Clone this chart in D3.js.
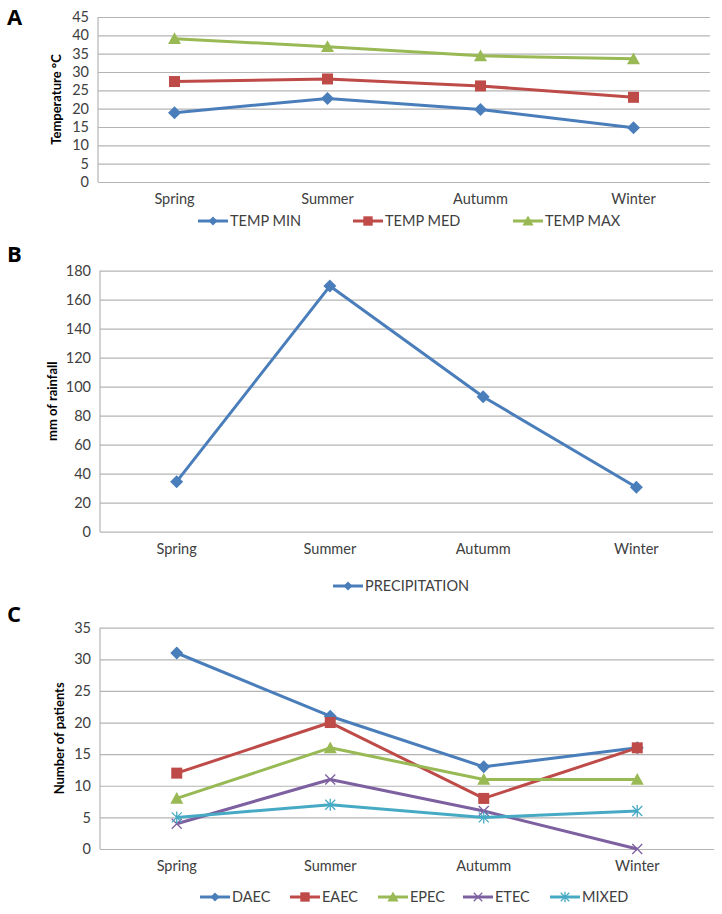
<!DOCTYPE html>
<html>
<head>
<meta charset="utf-8">
<script src="https://cdn.jsdelivr.net/npm/d3@7"></script>
<style>
  body { margin: 0; background: #fff; }
  text { font-family: Lato, "Open Sans", sans-serif; }
</style>
</head>
<body>
<div id="chart"></div>
<script>
// data
var seasons = ["Spring", "Summer", "Autumm", "Winter"]

var tempMin = [18.9, 22.8, 19.8, 14.8]
var tempMed = [27.4, 28.1, 26.2, 23.1]
var tempMax = [39.1, 36.9, 34.4, 33.6]

var precipitation = [34.5, 169.4, 93.1, 30.6]

var daec = [31, 21, 13, 16]
var eaec = [12, 20, 8, 16]
var epec = [8, 16, 11, 11]
var etec = [4, 11, 6, 0]
var mixed = [5, 7, 5, 6]

var blue = "#4a7ebb", red = "#be4b48", green = "#98b954", purple = "#7d60a0", cyan = "#46aac5"

var svg = d3.select("#chart")
  .append("svg")
  .attr("width", 722)
  .attr("height", 914)

// marker drawing
function marker(g, type, color, x, y, s) {
  if (type === "diamond") {
    var r = s / 2
    g.append("path")
      .attr("d", "M" + x + "," + (y - r) + "L" + (x + r) + "," + y + "L" + x + "," + (y + r) + "L" + (x - r) + "," + y + "Z")
      .attr("fill", color)
  } else if (type === "square") {
    g.append("rect").attr("x", x - s / 2).attr("y", y - s / 2)
      .attr("width", s).attr("height", s).attr("fill", color)
  } else if (type === "triangle") {
    var h = s * 0.9
    g.append("path")
      .attr("d", "M" + x + "," + (y - h / 2 - 1) + "L" + (x + s / 2 + 0.5) + "," + (y + h / 2) + "L" + (x - s / 2 - 0.5) + "," + (y + h / 2) + "Z")
      .attr("fill", color)
  } else if (type === "x") {
    var r = s / 2
    g.append("path")
      .attr("d", "M" + (x - r) + "," + (y - r) + "L" + (x + r) + "," + (y + r) + "M" + (x - r) + "," + (y + r) + "L" + (x + r) + "," + (y - r))
      .attr("stroke", color).attr("stroke-width", 1.3).attr("fill", "none")
  } else if (type === "star") {
    var r = s / 2
    g.append("path")
      .attr("d", "M" + (x - r) + "," + (y - r) + "L" + (x + r) + "," + (y + r) + "M" + (x - r) + "," + (y + r) + "L" + (x + r) + "," + (y - r) + "M" + x + "," + (y - r - 1) + "L" + x + "," + (y + r + 1))
      .attr("stroke", color).attr("stroke-width", 1.3).attr("fill", "none")
  }
}

function drawPanel(p) {
  var g = svg.append("g")

  var x = d3.scaleBand().domain(seasons).range([p.left, p.right])
  var y = d3.scaleLinear().domain([0, p.max]).range([p.bottom, p.top])

  // gridlines
  g.append("g")
    .attr("transform", "translate(" + p.left + ",0)")
    .call(d3.axisLeft(y).tickValues(d3.range(0, p.max + 1, p.step)).tickSize(-(p.right - p.left)).tickPadding(9))
    .call(function(a) {
      a.select(".domain").remove()
      a.selectAll(".tick line").attr("stroke", "#b4b4b4").attr("stroke-width", 1.2)
      a.selectAll(".tick text").attr("fill", "#404040").attr("font-size", 14.5)
        .style("font-family", "Lato, 'Open Sans', sans-serif")
    })

  // left axis line
  g.append("line")
    .attr("x1", p.left).attr("x2", p.left).attr("y1", p.top).attr("y2", p.bottom)
    .attr("stroke", "#b4b4b4").attr("stroke-width", 1.2)

  // x labels
  g.append("g")
    .attr("transform", "translate(0," + p.bottom + ")")
    .call(d3.axisBottom(x).tickSize(0).tickPadding(12))
    .call(function(a) {
      a.select(".domain").remove()
      a.selectAll(".tick text").attr("fill", "#404040").attr("font-size", 14.5)
        .style("font-family", "Lato, 'Open Sans', sans-serif")
    })

  // y title
  g.append("text")
    .attr("transform", "translate(" + p.titleX + "," + (p.top + p.bottom) / 2 + ") rotate(-90)")
    .attr("text-anchor", "middle")
    .attr("font-size", 13)
    .attr("font-weight", "bold")
    .attr("fill", "#000")
    .text(p.title)

  // panel letter
  g.append("text")
    .attr("x", 7).attr("y", p.letterY)
    .attr("font-size", 22).attr("font-weight", "bold")
    .style("font-family", "'Open Sans', Lato, sans-serif")
    .text(p.letter)

  var line = d3.line()
    .x(function(d, i) { return x(seasons[i]) + x.bandwidth() / 2 })
    .y(function(d) { return y(d) })

  p.series.forEach(function(s) {
    g.append("path")
      .datum(s.values)
      .attr("d", line)
      .attr("fill", "none")
      .attr("stroke", s.color)
      .attr("stroke-width", 3)
      .attr("stroke-linejoin", "round")
    s.values.forEach(function(v, i) {
      marker(g, s.marker, s.color, x(seasons[i]) + x.bandwidth() / 2, y(v), s.size)
    })
  })

  // legend
  p.series.forEach(function(s, i) {
    var lx = p.legendX[i]
    g.append("line")
      .attr("x1", lx).attr("x2", lx + 30).attr("y1", p.legendY).attr("y2", p.legendY)
      .attr("stroke", s.color).attr("stroke-width", 3)
    marker(g, s.marker, s.color, lx + 15, p.legendY, s.marker === "diamond" ? 9 : s.size * 0.85)
    g.append("text")
      .attr("x", lx + 32).attr("y", p.legendY + 5)
      .attr("font-size", 14.5).attr("fill", "#404040")
      .text(s.name)
  })
}

drawPanel({
  letter: "A", letterY: 25,
  left: 98, right: 710, top: 17, bottom: 182,
  max: 45, step: 5,
  title: "Temperature °C", titleX: 61,
  legendY: 221, legendX: [198, 353, 513],
  series: [
    { name: "TEMP MIN", values: tempMin, color: blue, marker: "diamond", size: 13 },
    { name: "TEMP MED", values: tempMed, color: red, marker: "square", size: 11 },
    { name: "TEMP MAX", values: tempMax, color: green, marker: "triangle", size: 12 }
  ]
})

drawPanel({
  letter: "B", letterY: 262,
  left: 100, right: 713, top: 270.7, bottom: 531.7,
  max: 180, step: 20,
  title: "mm of rainfall", titleX: 57,
  legendY: 586, legendX: [333],
  series: [
    { name: "PRECIPITATION", values: precipitation, color: blue, marker: "diamond", size: 13 }
  ]
})

drawPanel({
  letter: "C", letterY: 622,
  left: 100, right: 714, top: 627.7, bottom: 849,
  max: 35, step: 5,
  title: "Number of patients", titleX: 64,
  legendY: 897, legendX: [200, 290, 378, 463, 550],
  series: [
    { name: "DAEC", values: daec, color: blue, marker: "diamond", size: 13 },
    { name: "EAEC", values: eaec, color: red, marker: "square", size: 11 },
    { name: "EPEC", values: epec, color: green, marker: "triangle", size: 12 },
    { name: "ETEC", values: etec, color: purple, marker: "x", size: 10 },
    { name: "MIXED", values: mixed, color: cyan, marker: "star", size: 10 }
  ]
})
</script>
</body>
</html>
